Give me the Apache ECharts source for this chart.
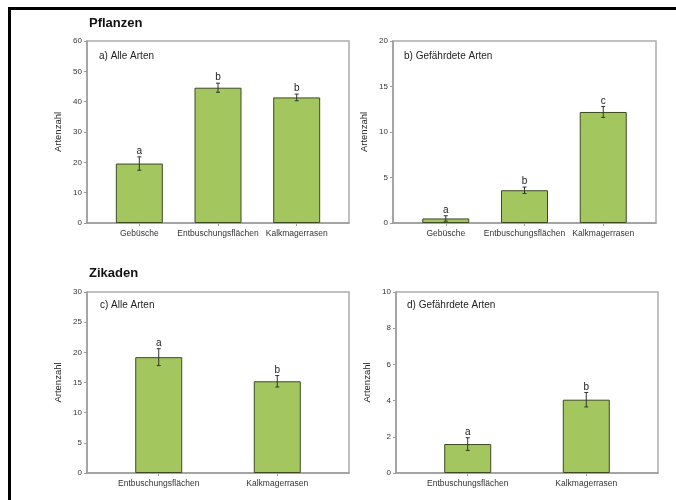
<!DOCTYPE html>
<html>
<head>
<meta charset="utf-8">
<script src="https://cdn.jsdelivr.net/npm/echarts@6/dist/echarts.min.js"></script>
<style>html,body{margin:0;padding:0;background:#fff}#c{width:676px;height:500px}</style>
</head>
<body>
<div id="c"></div>
<script>
// ---- data ----
var catsPflanzen = ['Gebüsche', 'Entbuschungsflächen', 'Kalkmagerrasen'];
var catsZikaden = ['Entbuschungsflächen', 'Kalkmagerrasen'];
var valuesA = [19.6, 44.6, 41.4];
var errorsA = [2.2, 1.5, 1.1];
var lettersA = ['a', 'b', 'b'];
var valuesB = [0.5, 3.6, 12.2];
var errorsB = [0.3, 0.35, 0.6];
var lettersB = ['a', 'b', 'c'];
var valuesC = [19.2, 15.2];
var errorsC = [1.4, 0.95];
var lettersC = ['a', 'b'];
var valuesD = [1.6, 4.05];
var errorsD = [0.35, 0.4];
var lettersD = ['a', 'b'];
var yTicksA = [0, 60, 10];
var yTicksB = [0, 20, 5];
var yTicksC = [0, 30, 5];
var yTicksD = [0, 10, 2];
var groupTitles = ['Pflanzen', 'Zikaden'];
var panelTitles = ['a) Alle Arten', 'b) Gefährdete Arten', 'c) Alle Arten', 'd) Gefährdete Arten'];
var yName = 'Artenzahl';

var FONT = '"Liberation Sans", Arial, sans-serif';
var AX = '#9c9c9c';
var chart = echarts.init(document.getElementById('c'));

var panels = [
  {cats: catsPflanzen, v: valuesA, e: errorsA, l: lettersA, y: yTicksA, grid: {left: 87, top: 41, width: 262, height: 182}, xr: [-0.665, 2.665]},
  {cats: catsPflanzen, v: valuesB, e: errorsB, l: lettersB, y: yTicksB, grid: {left: 393, top: 41, width: 263, height: 182}, xr: [-0.67, 2.67]},
  {cats: catsZikaden, v: valuesC, e: errorsC, l: lettersC, y: yTicksC, grid: {left: 87, top: 292, width: 262, height: 181}, xr: [-0.605, 1.605]},
  {cats: catsZikaden, v: valuesD, e: errorsD, l: lettersD, y: yTicksD, grid: {left: 396, top: 292, width: 262, height: 181}, xr: [-0.605, 1.605]}
];

var grids = [], xAxes = [], yAxes = [], series = [];
panels.forEach(function (p, i) {
  grids.push(Object.assign({show: true, borderColor: '#acacac', borderWidth: 1.5, backgroundColor: 'transparent'}, p.grid));
  var idx = p.cats.map(function (_, k) { return k; });
  xAxes.push({
    type: 'value', gridIndex: i, min: p.xr[0], max: p.xr[1],
    axisLine: {show: true, onZero: false, lineStyle: {color: AX, width: 1.5}},
    axisTick: {show: true, customValues: idx, length: 3, lineStyle: {color: AX}},
    splitLine: {show: false},
    axisLabel: {customValues: idx, fontSize: 8.5, color: '#333', fontFamily: FONT, margin: 6,
      formatter: (function (cats) { return function (v) { return cats[Math.round(v)] || ''; }; })(p.cats)}
  });
  yAxes.push({
    type: 'value', gridIndex: i, min: p.y[0], max: p.y[1], interval: p.y[2],
    axisLine: {show: true, onZero: false, lineStyle: {color: AX, width: 1.5}},
    axisTick: {show: true, length: 3, lineStyle: {color: AX}},
    splitLine: {show: false},
    axisLabel: {fontSize: 8, color: '#333', fontFamily: FONT, margin: 5},
    name: yName, nameLocation: 'middle', nameGap: 24, nameRotate: 90,
    nameTextStyle: {fontSize: 9.5, color: '#222', fontFamily: FONT}
  });
  series.push({
    type: 'bar', xAxisIndex: i, yAxisIndex: i, barWidth: 47, z: 2,
    data: p.v.map(function (v, k) { return [k, v]; }),
    itemStyle: {color: '#a4c65e', borderColor: '#3e4a24', borderWidth: 1},
    silent: true, animation: false
  });
  series.push({
    type: 'custom', xAxisIndex: i, yAxisIndex: i, animation: false, silent: true, z: 5,
    data: p.v.map(function (v, k) { return [k, v, p.e[k], k]; }),
    renderItem: (function (letters) {
      return function (params, api) {
        var x = api.value(0), y = api.value(1), e = api.value(2);
        var t = api.coord([x, y + e]), b = api.coord([x, y - e]);
        var c = '#333';
        return {type: 'group', children: [
          {type: 'line', shape: {x1: t[0], y1: t[1], x2: b[0], y2: b[1]}, style: {stroke: c, lineWidth: 1}},
          {type: 'line', shape: {x1: t[0] - 2, y1: t[1], x2: t[0] + 2, y2: t[1]}, style: {stroke: c, lineWidth: 1}},
          {type: 'line', shape: {x1: b[0] - 2, y1: b[1], x2: b[0] + 2, y2: b[1]}, style: {stroke: c, lineWidth: 1}},
          {type: 'text', x: t[0], y: t[1] - 0.5, style: {text: letters[api.value(3)], fontSize: 10, fontFamily: FONT, fill: '#222', align: 'center', verticalAlign: 'bottom'}}
        ]};
      };
    })(p.l)
  });
});

var titles = [
  {text: groupTitles[0], left: 89, top: 17, textStyle: {fontSize: 13, fontWeight: 'bold', fontFamily: FONT, color: '#111'}},
  {text: groupTitles[1], left: 89, top: 267, textStyle: {fontSize: 13, fontWeight: 'bold', fontFamily: FONT, color: '#111'}},
  {text: panelTitles[0], left: 99, top: 51, textStyle: {fontSize: 10, fontWeight: 'normal', fontFamily: FONT, color: '#222'}},
  {text: panelTitles[1], left: 404, top: 51, textStyle: {fontSize: 10, fontWeight: 'normal', fontFamily: FONT, color: '#222'}},
  {text: panelTitles[2], left: 100, top: 300, textStyle: {fontSize: 10, fontWeight: 'normal', fontFamily: FONT, color: '#222'}},
  {text: panelTitles[3], left: 407, top: 300, textStyle: {fontSize: 10, fontWeight: 'normal', fontFamily: FONT, color: '#222'}}
];
titles.forEach(function (t) { t.padding = 0; });

chart.setOption({
  animation: false,
  title: titles,
  grid: grids,
  xAxis: xAxes,
  yAxis: yAxes,
  series: series,
  graphic: [
    {type: 'line', shape: {x1: 8, y1: 8.5, x2: 676, y2: 8.5}, style: {stroke: '#000', lineWidth: 3}},
    {type: 'line', shape: {x1: 9.5, y1: 7, x2: 9.5, y2: 500}, style: {stroke: '#000', lineWidth: 3}}
  ]
});
</script>
</body>
</html>
